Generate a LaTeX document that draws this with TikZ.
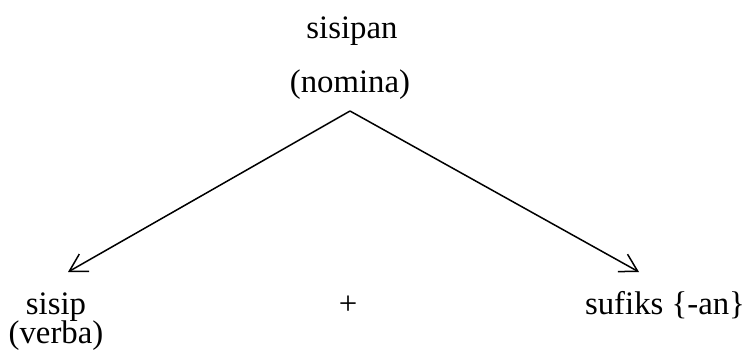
\documentclass[tikz,border=0pt]{standalone}
\usepackage{fontspec}
\setmainfont{Liberation Serif}
\usetikzlibrary{arrows.meta}

\begin{document}
\begin{tikzpicture}[x=0.366pt,y=-0.366pt,
      every node/.style={font=\fontsize{12}{14}\selectfont,inner sep=0pt,anchor=base},
      branch/.style={line width=0.55pt,-{Straight Barb[length=6.3pt,width=7.3pt,line width=0.55pt]}}]
    \useasboundingbox (0,0) rectangle (744,354);
    \node (sisipan) at (352,38)  {sisipan};
    \node (nomina)  at (350,92)  {(nomina)};
    \node (sisip)   at (56,314)  {sisip};
    \node (verba)   at (56,343)  {(verba)};
    \node (plus)    at (348,314) {+};
    \node (sufiks)  at (665,314) {sufiks \{-an\}};
    \coordinate (apex)  at (350,111);
    \coordinate (ltip)  at (68,272);
    \coordinate (rtip)  at (639,272);
    \draw[branch] (apex) -- (ltip);
    \draw[branch] (apex) -- (rtip);
  \end{tikzpicture}
\end{document}
